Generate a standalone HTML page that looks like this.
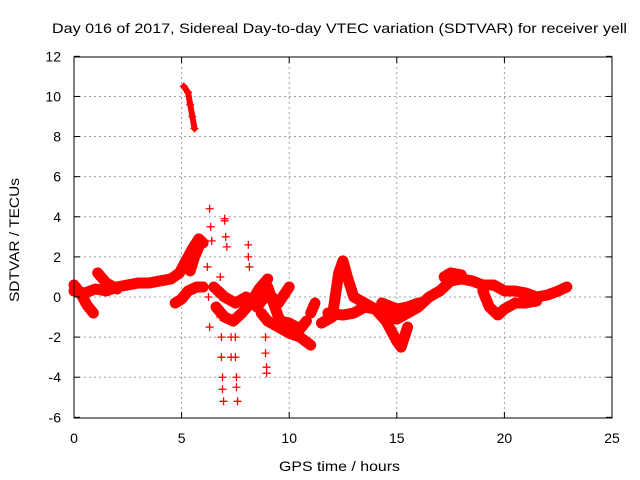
<!DOCTYPE html>
<html><head><meta charset="utf-8"><style>
body{margin:0;background:#fff}
svg{display:block;font-family:"Liberation Sans",sans-serif;font-size:14px}
</style></head><body>
<svg id="c" width="640" height="480">
<text x="52" y="33" textLength="575" lengthAdjust="spacingAndGlyphs">Day 016 of 2017, Sidereal Day-to-day VTEC variation (SDTVAR) for receiver yell</text>
<text x="279" y="471" textLength="121" lengthAdjust="spacingAndGlyphs">GPS time / hours</text>
<text transform="translate(19,302) rotate(-90)" textLength="124" lengthAdjust="spacingAndGlyphs">SDTVAR / TECUs</text>
<g id="grid"></g><g id="data"></g>
<rect x="74" y="57" width="538" height="361" fill="none" stroke="#000"/>
<g id="ticks"></g>
</svg>
<script>
const xTicks=[0,5,10,15,20,25];
const yTicks=[-6,-4,-2,0,2,4,6,8,10,12];
const trackMain=[[0,0.3],[0.5,0.2],[1,0.4],[1.5,0.3],[2,0.5],[2.5,0.6],[3,0.7],[3.5,0.7],[4,0.8],[4.5,0.9],[4.9,1.2],[5.2,1.8],[5.5,2.4],[5.8,2.9],[6,2.7]];
const trackB=[[0,0.6],[0.3,0.2],[0.6,-0.4],[0.9,-0.8]];
const trackC=[[1.1,1.2],[1.5,0.7],[2,0.4]];
const trackD=[[4.7,-0.3],[5,-0.1],[5.3,0.3],[5.7,0.5],[6,0.5]];
const trackE=[[5.4,1.3],[5.6,2],[5.8,2.5]];
const trackHigh=[[5.1,10.5],[5.3,10.2],[5.4,9.6],[5.5,9.0],[5.6,8.4]];
const trackF=[[6.5,0.5],[7,0],[7.5,-0.3],[8,0],[8.5,-0.5],[9,0.2],[9.5,-0.3],[10,0.5]];
const trackO=[[6.6,-0.5],[7,-1],[7.4,-1.2],[7.8,-0.8],[8.2,-0.3],[8.6,0.4],[9,0.9]];
const trackG=[[8.7,-0.8],[9,-1.2],[9.5,-1.5],[10,-1.8],[10.5,-2],[11,-2.4]];
const trackH=[[9,0.5],[9.5,-1],[10,-1.8]];
const trackP=[[9.5,-1.2],[10,-1.3],[10.5,-1.6],[10.8,-1.2]];
const trackI=[[11,-0.8],[11.2,-0.3]];
const trackJ=[[11.5,-1.3],[12,-1],[12.3,1.2],[12.5,1.8],[12.7,1],[13,0],[13.5,-0.3],[14,-0.6],[14.5,-1.2],[14.8,-1.8],[15,-2.2],[15.2,-2.5],[15.5,-1.5]];
const trackK=[[11.8,-0.8],[12.5,-0.9],[13,-0.8],[13.5,-0.5],[14,-0.6],[14.5,-0.9],[15,-1.1],[15.5,-0.8],[16,-0.5],[16.5,0],[17,0.3],[17.5,0.8],[18,0.9],[18.5,0.8],[19,0.6],[19.5,0.6],[20,0.3],[20.5,0.3],[21,0.2],[21.5,0],[22,0.1],[22.5,0.3],[22.9,0.5]];
const trackL=[[14.3,-0.3],[15,-0.6],[15.5,-0.5],[16,-0.3]];
const trackM=[[19,0.3],[19.3,-0.5],[19.7,-0.9],[20,-0.6],[20.5,-0.3],[21,-0.3],[21.5,-0.2]];
const trackN=[[17.2,1],[17.5,1.2],[18,1.1]];
const tracks=[trackMain,trackB,trackC,trackD,trackE,trackHigh,trackF,trackO,trackG,trackH,trackP,trackI,trackJ,trackK,trackL,trackM,trackN];
const scatterT=[6.3,6.35,6.4,6.8,6.8,6.8,6.85,6.85,6.9,6.9,6.95,7,7,7.05,7.1,7.5,7.5,7.5,7.55,7.55,7.6,8.1,8.1,8.15,8.9,8.9,8.95,8.95,7.3,7.3,6.2,6.25,6.3];
const scatterV=[4.4,3.5,2.8,1,0,-1,-2,-3,-4,-4.6,-5.2,3.9,3.8,3,2.5,-1,-2,-3,-4,-4.5,-5.2,2.6,2,1.5,-2,-2.8,-3.5,-3.8,-2,-3,1.5,0,-1.5];
const NS="http://www.w3.org/2000/svg";
const X=t=>74+t*538/25, Y=v=>297-v*361/18;
const grid=document.getElementById('grid'),ticks=document.getElementById('ticks'),data=document.getElementById('data');
function mk(tag,at,p){const e=document.createElementNS(NS,tag);for(const k in at)e.setAttribute(k,at[k]);p.appendChild(e);return e;}
xTicks.forEach(t=>{const x=X(t);
 if(t>0&&t<25){const g=mk('line',{x1:x,x2:x,y1:57,y2:418,stroke:'#a0a0a0','stroke-dasharray':'2,3'},grid);
 
 }
 mk('line',{x1:x,x2:x,y1:418,y2:412,stroke:'#000'},ticks);mk('line',{x1:x,x2:x,y1:57,y2:63,stroke:'#000'},ticks);
 const l=mk('text',{x:x,y:443,'text-anchor':'middle'},ticks);l.textContent=t;
 
 });
yTicks.forEach(v=>{const y=Y(v);
 if(v>-6&&v<12){const g=mk('line',{x1:74,x2:612,y1:y,y2:y,stroke:'#a0a0a0','stroke-dasharray':'2,3'},grid);
 
 }
 mk('line',{x1:74,x2:80,y1:y,y2:y,stroke:'#000'},ticks);mk('line',{x1:612,x2:606,y1:y,y2:y,stroke:'#000'},ticks);
 const l=mk('text',{x:61,y:y+5,'text-anchor':'end'},ticks);l.textContent=v;
 
 });
function plus(t,v){const x=X(t),y=Y(v);const p=mk('path',{d:`M${x-4},${y}h8M${x},${y-4}v8`,stroke:'#f00','stroke-width':1.3},data);
 
 }
tracks.forEach(tr=>{const pl=mk('polyline',{points:tr.map(p=>X(p[0])+','+Y(p[1])).join(' '),fill:'none',stroke:'#f00','stroke-width':tr===trackHigh?6:11,'stroke-linejoin':'round','stroke-linecap':'round'},data);
 
 
 tr.forEach(p=>plus(p[0],p[1]));});
scatterT.forEach((t,i)=>plus(t,scatterV[i]));
</script>
</body></html>
